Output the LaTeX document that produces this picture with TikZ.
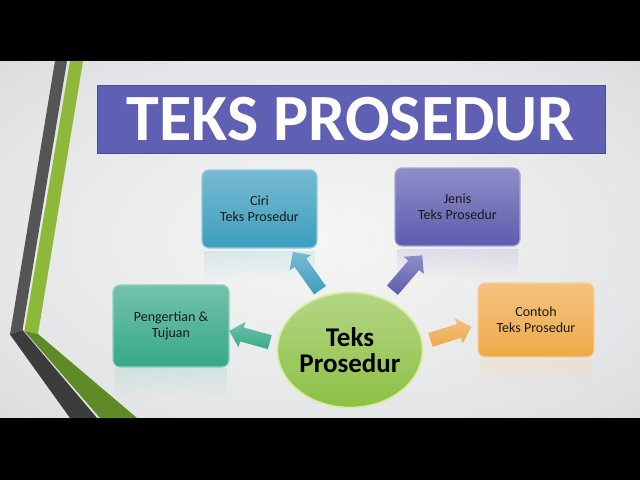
\documentclass[tikz,border=0pt]{standalone}
\usepackage{fontspec}
\setmainfont{Carlito}
\usetikzlibrary{shapes.arrows,shapes.geometric}
\definecolor{bgA}{HTML}{F6F6F6}
\definecolor{bgB}{HTML}{E3E4E5}
\definecolor{bgC}{HTML}{CACDCF}
\definecolor{bannerc}{HTML}{5F5FB4}
\definecolor{ciric}{HTML}{3C9EBE}
\definecolor{jenisc}{HTML}{5E5CAE}
\definecolor{pengc}{HTML}{36A888}
\definecolor{contohc}{HTML}{EEA948}
\definecolor{ellc}{HTML}{8CC043}
\definecolor{ellrim}{HTML}{D8EA9C}
\definecolor{grayup}{HTML}{555555}
\definecolor{graylo}{HTML}{3C3C3C}
\definecolor{greenup}{HTML}{8DB83A}
\definecolor{greenlo}{HTML}{5E8A28}
\pgfdeclareradialshading{bgshade}{\pgfpoint{0bp}{0bp}}{color(0bp)=(bgA); color(28bp)=(bgB); color(50bp)=(bgC); color(100bp)=(bgC)}
\tikzset{
  infobox/.style={rounded corners=7pt, align=center, inner sep=2pt,
    font=\fontsize{14}{16}\selectfont, text=black!90, line width=1.2pt,
    top color=#1!70!white, bottom color=#1, draw=#1!55!white},
  blockarrow/.style={single arrow, inner sep=7pt, single arrow head extend=6pt,
    single arrow tip angle=90, draw=none, top color=#1!70!white, bottom color=#1}
}
% reflection: #1 colour, (#2,#3) top-left, (#4,#5) bottom-right
\newcommand{\mirrorfade}[5]{%
  \foreach \k in {0,...,11}{%
    \pgfmathsetmacro{\ya}{#3+(#5-#3)*\k/12}%
    \pgfmathsetmacro{\yb}{#3+(#5-#3)*(\k+1)/12}%
    \pgfmathsetmacro{\op}{0.32*(1-\k/12)}%
    \fill[#1!45!white, opacity=\op] (#2,\ya) rectangle (#4,\yb);
  }}
\begin{document}
\begin{tikzpicture}[x=1pt,y=-1pt]
\useasboundingbox (0,0) rectangle (640,480);
% background
\shade[shading=bgshade] (0,61) rectangle (640,418);
\fill[black] (0,0) rectangle (640,61);
\fill[black] (0,418) rectangle (640,480);
% left stripes
\fill[grayup] (55,61) -- (67,61) -- (22.5,330) -- (10,334.5) -- cycle;
\fill[graylo] (10,334.5) -- (22.5,330) -- (97,418) -- (70,418) -- cycle;
\fill[greenup] (70,61) -- (83,61) -- (38,334) -- (24.4,331) -- cycle;
\fill[greenlo] (24.4,331) -- (38,334) -- (137,418) -- (100,418) -- cycle;
% title banner
\node[fill=bannerc, draw=bannerc!80!black, line width=0.6pt, minimum width=508pt, minimum height=68pt,
  inner sep=0pt, text=white, font=\bfseries\fontsize{66}{66}\selectfont] (title) at (351,119) {TEKS PROSEDUR};
% reflections
\mirrorfade{ciric}{204}{251}{315}{280}
\mirrorfade{jenisc}{397}{249}{518}{278}
\mirrorfade{pengc}{115}{368}{227}{396}
\mirrorfade{contohc}{480}{360}{592}{386}
% boxes
\node[infobox=ciric, minimum width=115pt, minimum height=78pt] (ciri) at (259.5,209) {Ciri\\Teks Prosedur};
\node[infobox=jenisc, minimum width=125pt, minimum height=78pt] (jenis) at (457.5,207) {Jenis\\Teks Prosedur};
\node[infobox=pengc, minimum width=116pt, minimum height=82pt] (peng) at (171,326) {Pengertian \&\\Tujuan};
\node[infobox=contohc, minimum width=116pt, minimum height=74pt] (contoh) at (536,320) {Contoh\\Teks Prosedur};
% centre ellipse
\node[ellipse, minimum width=145pt, minimum height=115pt, inner sep=0pt, align=center,
  top color=ellc!65!white, bottom color=ellc, draw=ellrim, line width=1.6pt,
  font=\bfseries\fontsize{27}{26}\selectfont, text=black] (centre) at (350,350) {Teks\\Prosedur};
% block arrows
\node[blockarrow=ciric, minimum height=47pt, rotate=125.4] (a1) at (308.5,274) {};
\node[blockarrow=jenisc, minimum height=46pt, rotate=49.4] (a2) at (405,275.5) {};
\node[blockarrow=pengc, minimum height=42pt, rotate=164.6] (a3) at (253,337.5) {};
\node[blockarrow=contohc, minimum height=43pt, rotate=17.6] (a4) at (447.5,334.5) {};
\end{tikzpicture}
\end{document}
